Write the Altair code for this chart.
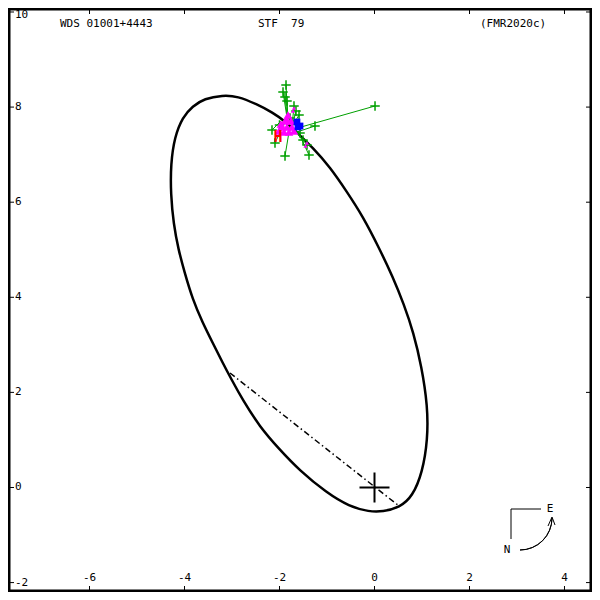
import altair as alt
import pandas as pd

# ---------------- data (arcsec) ----------------
orbit_x = [-3.20, -2.88, -2.48, -2.15, -1.85, -1.62, -1.31, -0.93, -0.59, -0.25,
           0.11, 0.38, 0.62, 0.82, 0.99, 1.12, 1.12, 1.01, 0.80, 0.53,
           0.17, -0.11, -0.53, -1.01, -1.58, -2.00, -2.42, -2.78, -3.01, -3.20,
           -3.41, -3.62, -3.83, -4.00, -4.13, -4.23, -4.29, -4.29, -4.21, -4.04,
           -3.83, -3.58]
orbit_y = [8.25, 8.23, 8.06, 7.89, 7.68, 7.45, 7.16, 6.73, 6.23, 5.71,
           5.01, 4.44, 3.85, 3.26, 2.55, 1.71, 1.01, 0.32, -0.19, -0.42,
           -0.51, -0.51, -0.40, -0.11, 0.36, 0.80, 1.28, 1.85, 2.27, 2.63,
           3.05, 3.47, 3.96, 4.53, 5.01, 5.54, 6.17, 6.80, 7.37, 7.79,
           8.02, 8.18]

# line of nodes
node_x = [-3.042]
node_y = [2.408]
node_x2 = [0.516]
node_y2 = [-0.389]

# micrometer / visual measures (green) and their predicted positions
obs_x = [-1.863, -1.926, -1.884, -1.842, -1.695, -1.653, -1.589, -2.158, -2.095,
         -1.884, -1.379, -1.421, -1.568, -1.253, 0.011, -2.000, -1.779, -1.505]
obs_y = [8.465, 8.318, 8.213, 8.128, 8.023, 7.918, 7.834, 7.518, 7.245,
         6.971, 6.992, 7.203, 7.455, 7.603, 8.023, 7.624, 7.771, 7.308]
pred_x = [-1.821, -1.821, -1.821, -1.821, -1.737, -1.737, -1.737, -1.947, -1.884,
          -1.779, -1.568, -1.611, -1.674, -1.632, -1.695, -1.905, -1.800, -1.632]
pred_y = [7.645, 7.645, 7.645, 7.645, 7.582, 7.582, 7.582, 7.729, 7.687,
          7.603, 7.392, 7.434, 7.518, 7.476, 7.539, 7.687, 7.624, 7.455]

# speckle measures (magenta)
spk_x = [-1.821, -1.884, -1.758, -1.947, -1.842, -1.737, -2.011, -1.905, -1.800,
         -1.695, -1.842, -1.968]
spk_y = [7.834, 7.708, 7.708, 7.582, 7.582, 7.582, 7.497, 7.476, 7.476,
         7.497, 7.729, 7.645]
spk_small_x = [-1.695, -1.716, -1.421, -1.453]
spk_small_y = [7.981, 7.918, 7.245, 7.182]

# other high-precision measures (blue)
blue_x = [-1.632, -1.568, -1.611]
blue_y = [7.687, 7.603, 7.582]

# Hipparcos (red H)
hip_x = [-2.032]
hip_y = [7.371]

# primary star
star_x = [0.0]
star_y = [0.0]

# axes
xtick_vals = [-6, -4, -2, 0, 2, 4]
ytick_vals = [-2, 0, 2, 4, 6, 8, 10]

title_left = "WDS 01001+4443"
title_mid = "STF \u00a079"
title_right = "(FMR2020c)"

# ---------------- chart ----------------
W = 584
H = 584
XDOM = [-7.716, 4.579]
YDOM = [-2.198, 10.084]
FONT = "DejaVu Sans Mono"
GREEN = "#00a000"


def X(f):
    return alt.X(f"{f}:Q", scale=alt.Scale(domain=XDOM, nice=False, zero=False), axis=None)


def Y(f):
    return alt.Y(f"{f}:Q", scale=alt.Scale(domain=YDOM, nice=False, zero=False), axis=None)


one = pd.DataFrame({"a": [0]})

orbit_df = pd.DataFrame({"x": orbit_x, "y": orbit_y, "i": list(range(len(orbit_x)))})
orbit = alt.Chart(orbit_df).mark_line(
    color="black", strokeWidth=2.5, interpolate="basis-closed"
).encode(x=X("x"), y=Y("y"), order=alt.Order("i:Q"))

nodes = alt.Chart(pd.DataFrame({"x": node_x, "y": node_y, "x2": node_x2, "y2": node_y2})).mark_rule(
    color="black", strokeWidth=1.5, strokeDash=[6, 3, 1.5, 3]
).encode(x=X("x"), y=Y("y"), x2="x2:Q", y2="y2:Q")

obs_df = pd.DataFrame({"x": obs_x, "y": obs_y, "px": pred_x, "py": pred_y})
oc = alt.Chart(obs_df).mark_rule(color=GREEN, strokeWidth=1).encode(
    x=X("x"), y=Y("y"), x2="px:Q", y2="py:Q")
plus = "M-1,0H1M0,-1V1"
obs = alt.Chart(obs_df).mark_point(
    shape=plus, size=90, color=GREEN, strokeWidth=1.5, filled=False, opacity=1
).encode(x=X("x"), y=Y("y"))

spk = alt.Chart(pd.DataFrame({"x": spk_x, "y": spk_y})).mark_point(
    shape="triangle-up", size=75, color="#ff00ff", filled=True, opacity=1
).encode(x=X("x"), y=Y("y"))
spk_small = alt.Chart(pd.DataFrame({"x": spk_small_x, "y": spk_small_y})).mark_point(
    shape="triangle-up", size=18, color="#ff00ff", filled=True, opacity=1
).encode(x=X("x"), y=Y("y"))

blue = alt.Chart(pd.DataFrame({"x": blue_x, "y": blue_y})).mark_point(
    shape="square", size=45, color="#0000ff", filled=True, opacity=1
).encode(x=X("x"), y=Y("y"))

hip = alt.Chart(pd.DataFrame({"x": hip_x, "y": hip_y, "t": ["H"]})).mark_text(
    font=FONT, fontSize=15, fontWeight="bold", color="#ff0000", baseline="middle", align="center"
).encode(x=X("x"), y=Y("y"), text="t:N")

star = alt.Chart(pd.DataFrame({"x": star_x, "y": star_y})).mark_point(
    shape=plus, size=900, color="black", strokeWidth=2, filled=False, opacity=1
).encode(x=X("x"), y=Y("y"))

# ticks and labels (inside the frame)
xt = pd.DataFrame({"v": xtick_vals, "lab": [str(v) for v in xtick_vals]})
yt = pd.DataFrame({"v": ytick_vals, "lab": [str(v) for v in ytick_vals]})
tick_b = alt.Chart(xt).mark_rule(color="black").encode(x=X("v"), y=alt.value(H), y2=alt.value(H - 6))
tick_t = alt.Chart(xt).mark_rule(color="black").encode(x=X("v"), y=alt.value(0), y2=alt.value(6))
tick_l = alt.Chart(yt).mark_rule(color="black").encode(y=Y("v"), x=alt.value(0), x2=alt.value(6))
tick_r = alt.Chart(yt).mark_rule(color="black").encode(y=Y("v"), x=alt.value(W), x2=alt.value(W - 6))
xlab = alt.Chart(xt).mark_text(font=FONT, fontSize=11, baseline="middle", align="center", color="black").encode(
    x=X("v"), y=alt.value(H - 14), text="lab:N")
ylab = alt.Chart(yt).transform_filter("datum.v < 10").mark_text(
    font=FONT, fontSize=11, baseline="middle", align="left", color="black").encode(
    y=Y("v"), x=alt.value(7), text="lab:N")
ylab_top = alt.Chart(yt).transform_filter("datum.v >= 10").mark_text(
    font=FONT, fontSize=11, baseline="middle", align="left", color="black", dy=3).encode(
    y=Y("v"), x=alt.value(7), text="lab:N")


def label(txt, x, y, align="left"):
    return alt.Chart(one).mark_text(
        text=txt, font=FONT, fontSize=11, baseline="middle", align=align, color="black"
    ).encode(x=alt.value(x), y=alt.value(y))


t1 = label(title_left, 52, 16)
t2 = label(title_mid, 250, 16)
t3 = label(title_right, 472, 16)

# compass (N / E)
c_v = alt.Chart(one).mark_rule(color="black").encode(x=alt.value(503), y=alt.value(501), y2=alt.value(531))
c_h = alt.Chart(one).mark_rule(color="black").encode(x=alt.value(503), x2=alt.value(533), y=alt.value(501))
c_e = label("E", 542, 501, "center")
c_n = label("N", 499, 542, "center")
c_arc = alt.Chart(one).mark_arc(
    theta=1.5708, theta2=3.1416, radius=32, radius2=32, fill=None, stroke="black", strokeWidth=1
).encode(x=alt.value(512), y=alt.value(510))
c_a1 = alt.Chart(one).mark_rule(color="black").encode(
    x=alt.value(544), y=alt.value(509), x2=alt.value(540), y2=alt.value(518))
c_a2 = alt.Chart(one).mark_rule(color="black").encode(
    x=alt.value(544), y=alt.value(509), x2=alt.value(547), y2=alt.value(517))

chart = alt.layer(
    orbit, nodes, oc, obs, spk, spk_small, blue, hip, star,
    tick_b, tick_t, tick_l, tick_r, xlab, ylab, ylab_top,
    t1, t2, t3, c_v, c_h, c_e, c_n, c_arc, c_a1, c_a2
).properties(
    width=W, height=H, padding=0, autosize=alt.AutoSizeParams(type="none"),
    background="white"
).configure_view(stroke="black", strokeWidth=5)

chart.save("out.html", embed_options={"renderer": "svg", "actions": False})
